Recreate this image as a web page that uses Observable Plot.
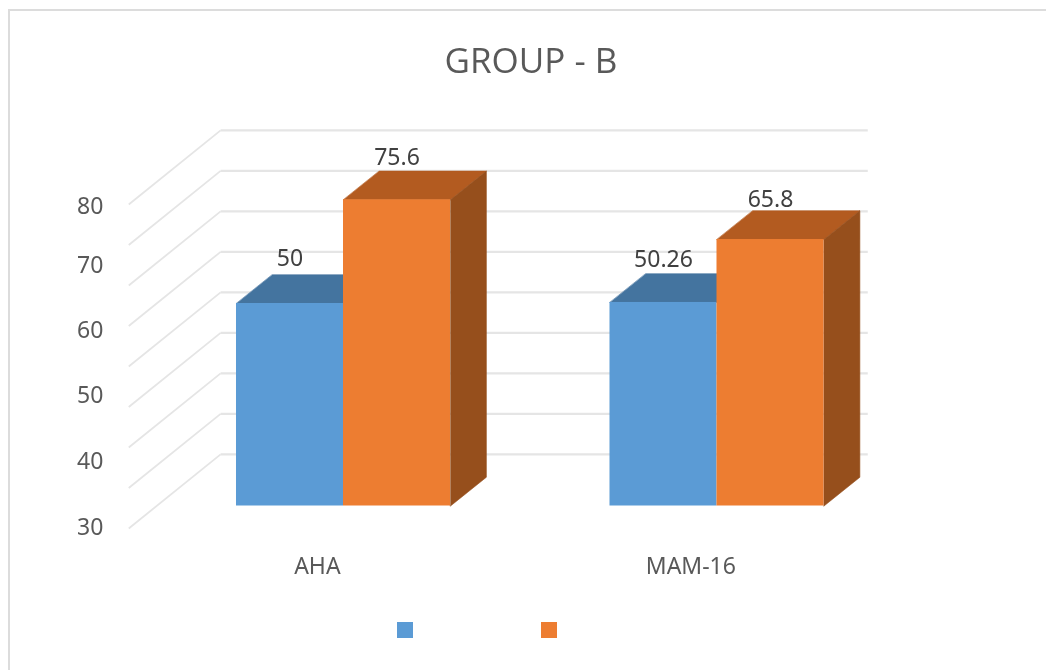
<!DOCTYPE html>
<html>
<head>
<meta charset="utf-8">
<script src="https://cdn.jsdelivr.net/npm/d3@7"></script>
<script src="https://cdn.jsdelivr.net/npm/@observablehq/plot@0.6"></script>
<style>
html,body{margin:0;padding:0;background:#fff;overflow:hidden}
#page{position:relative;width:1046px;height:670px;filter:blur(.55px);font-family:"Open Sans",sans-serif}
#frame{position:absolute;left:8px;top:9px;width:1040px;height:663px;border-left:2px solid #dcdcdc;border-top:2px solid #dcdcdc;box-sizing:border-box}
#title{position:absolute;left:0;top:0;width:1062px;height:110px;line-height:120px;text-align:center;font-size:35px;color:#595959}
#chart{position:absolute;left:0;top:110px}
#chart svg{display:block}
#legend i{position:absolute;top:622px;width:16px;height:16px}
</style>
</head>
<body>
<div id="page">
  <div id="frame"></div>
  <div id="title">GROUP - B</div>
  <div id="chart"></div>
  <div id="legend"></div>
</div>
<script>
const categories = ["AHA", "MAM-16"];
const seriesA = [50, 50.26];
const seriesB = [75.6, 65.8];
const gridValues = [0, 10, 20, 30, 40, 50, 60, 70, 80];
const axisLabels = ["30", "40", "50", "60", "70", "80"];
const axisLabelAt = [-5.3, 11, 27.3, 43.3, 59.4, 73.8];
const labelLift = [[11.1, 10.6], [10.4, 9.9]];
const colors = {
  a: {front: "#5b9bd5", top: "#44749f"},
  b: {front: "#ed7d31", top: "#b35b20", side: "#964f1c"}
};
const barWidth = 0.2865;
const barDepthX = 0.096, barDepthY = 7.1;
const wallLeft = -0.575, wallDepthX = 0.246, wallFrontDrop = 5.55, wallBackRise = 12.75, wallRight = 1.4036;

const front = [], faces = [], labels = [];
function addBar(series, g, value, x0, c, lift, side) {
  const x1 = x0 + barWidth;
  front.push({series, x1: x0, x2: x1, y2: value, fill: c.front});
  faces.push({series, id: `t${g}`, fill: c.top, pts: [[x0, value], [x1, value], [x1 + barDepthX, value + barDepthY], [x0 + barDepthX, value + barDepthY]]});
  if (side) faces.push({series, id: `s${g}`, fill: c.side, pts: [[x1, 0], [x1 + barDepthX, barDepthY], [x1 + barDepthX, value + barDepthY], [x1, value]]});
  labels.push({x: (x0 + x1) / 2, y: value + lift, text: String(value)});
}
categories.forEach((name, g) => {
  addBar("a", g, seriesA[g], g - barWidth, colors.a, labelLift[0][g], false);
  addBar("b", g, seriesB[g], g, colors.b, labelLift[1][g], true);
});
const facePoints = faces.flatMap(f => f.pts.map(p => ({series: f.series, id: f.series + f.id, fill: f.fill, x: p[0], y: p[1]})));
const barMarks = s => [
  Plot.line(facePoints.filter(d => d.series === s), {x: "x", y: "y", z: "id", fill: "fill", stroke: "fill", strokeWidth: 0.6, curve: "linear-closed"}),
  Plot.rect(front.filter(d => d.series === s), {x1: "x1", x2: "x2", y1: 0, y2: "y2", fill: "fill"})
];

const plot = Plot.plot({
  width: 1046,
  height: 490,
  marginTop: 0, marginRight: 0, marginBottom: 0, marginLeft: 0,
  x: {type: "linear", domain: [0, 1], range: [343, 716.5], axis: null},
  y: {type: "linear", domain: [0, 80], range: [395.5, 71.5], axis: null},
  style: {background: "transparent"},
  marks: [
    Plot.link(gridValues, {
      x1: wallLeft, x2: wallLeft + wallDepthX,
      y1: d => d - wallFrontDrop, y2: d => d + wallBackRise,
      stroke: "#e5e5e5", strokeWidth: 1.8
    }),
    Plot.link(gridValues, {
      x1: wallLeft + wallDepthX, x2: wallRight,
      y1: d => d + wallBackRise, y2: d => d + wallBackRise,
      stroke: "#e5e5e5", strokeWidth: 2.2
    }),
    ...barMarks("a"),
    ...barMarks("b"),
    Plot.text(labels, {x: "x", y: "y", text: "text", fontSize: 23, fill: "#404040"}),
    Plot.text(categories, {x: (d, i) => i - 0.07, y: -15, text: d => d, fontSize: 23, fill: "#595959"}),
    Plot.text(axisLabels, {x: -0.643, y: (d, i) => axisLabelAt[i], text: d => d, textAnchor: "end", fontSize: 23, fill: "#595959"})
  ]
});
document.getElementById("chart").append(plot);

const legend = document.getElementById("legend");
[[colors.a.front, 397], [colors.b.front, 541]].forEach(([c, left]) => {
  const s = document.createElement("i");
  s.style.background = c;
  s.style.left = left + "px";
  legend.append(s);
});
</script>
</body>
</html>
